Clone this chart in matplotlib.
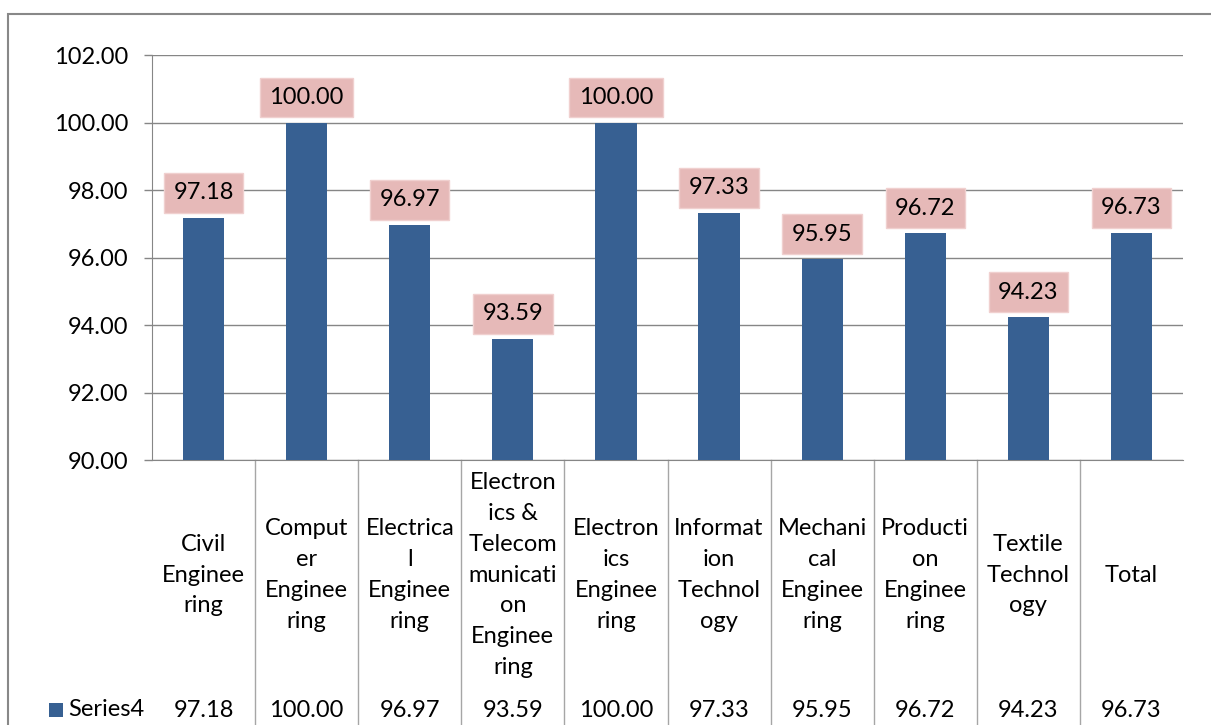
import matplotlib.pyplot as plt
from matplotlib.patches import Rectangle
from matplotlib.transforms import blended_transform_factory

# chart data
categories = [
    "Civil\nEnginee\nring",
    "Comput\ner\nEnginee\nring",
    "Electrica\nl\nEnginee\nring",
    "Electron\nics &\nTelecom\nmunicati\non\nEnginee\nring",
    "Electron\nics\nEnginee\nring",
    "Informat\nion\nTechnol\nogy",
    "Mechani\ncal\nEnginee\nring",
    "Producti\non\nEnginee\nring",
    "Textile\nTechnol\nogy",
    "Total",
]
values = [97.18, 100.00, 96.97, 93.59, 100.00, 97.33, 95.95, 96.72, 94.23, 96.73]
series_name = "Series4"
y_ticks = [90, 92, 94, 96, 98, 100, 102]

W, H = 1211, 725
BAR = "#376092"
GRID = "#868686"
FONT = "Lato"
FS = 17

plt.rcParams["font.family"] = [FONT, "DejaVu Sans"]

fig = plt.figure(figsize=(W / 100, H / 100), dpi=100)
ax = fig.add_axes([152 / W, 1 - 460 / H, (1183 - 152) / W, (460 - 55) / H])

x = list(range(len(values)))
ax.bar(x, [v - 90 for v in values], bottom=90, width=0.4, color=BAR, zorder=3)

ax.set_xlim(-0.5, len(values) - 0.5)
ax.set_ylim(90, 102)
ax.set_yticks(y_ticks)
ax.set_yticklabels([f"{t:.2f}" for t in y_ticks], fontsize=FS)
ax.set_xticks([])
ax.yaxis.grid(True, color=GRID, linewidth=1, zorder=0)
ax.tick_params(axis="y", length=5.8, width=1, color=GRID, pad=11)
for side in ["top", "right"]:
    ax.spines[side].set_visible(False)
ax.spines["left"].set_color(GRID)
ax.spines["bottom"].set_color(GRID)

# value labels in pink boxes
for xi, v in zip(x, values):
    ax.annotate(f"{v:.2f}", (xi, v), xytext=(0, 18), textcoords="offset points",
                ha="center", va="center", fontsize=FS, zorder=4,
                bbox=dict(boxstyle="square,pad=0.4", fc="#E6B9B8",
                          ec="#F0D0CF", lw=1))

# data table under the axis
tr = blended_transform_factory(ax.transData, ax.transAxes)
y_lab = (460 - 575) / 405
y_val = (460 - 710) / 405
y_end = (460 - 730) / 405
for xi, cat, v in zip(x, categories, values):
    ax.text(xi, y_lab, cat, transform=tr, ha="center", va="center",
            fontsize=FS, linespacing=1.58, clip_on=False)
    ax.text(xi, y_val, f"{v:.2f}", transform=tr, ha="center", va="center",
            fontsize=FS, clip_on=False)
for k in range(1, len(values)):
    ax.plot([k - 0.5, k - 0.5], [0, y_end], transform=tr, color="#A6A6A6",
            lw=1, clip_on=False)

# legend key in the table
fig.patches.append(Rectangle((49 / W, 1 - 717 / H), 14 / W, 14 / H,
                             transform=fig.transFigure, fc=BAR, ec="none"))
fig.text(68 / W, 1 - 710 / H, series_name, fontsize=FS, ha="left", va="center")

# outer chart border
fig.patches.append(Rectangle((8 / W, -0.05), 1.1, 1 - 14 / H + 0.05,
                             transform=fig.transFigure, fill=False,
                             ec="#888888", lw=1.5))

fig.savefig("out.png", dpi=100)
